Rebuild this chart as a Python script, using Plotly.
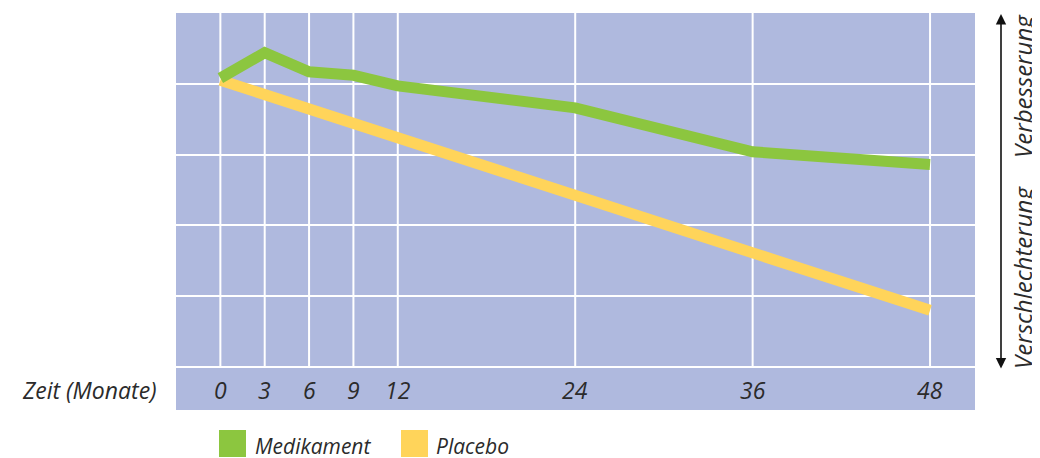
import plotly.graph_objects as go

# Data
months = [0, 3, 6, 9, 12, 24, 36, 48]
medikament = [4.08, 4.44, 4.17, 4.12, 3.97, 3.66, 3.04, 2.86]
placebo_months = [0, 48]
placebo = [4.05, 0.80]
tick_labels = ["0", "3", "6", "9", "12", "24", "36", "48"]
series_names = ["Medikament", "Placebo"]
colors = ["#8CC63F", "#FFD45A"]

BG = "#AFB9DE"
TXT = "#2b2b2b"
FONT = "Open Sans"
FS = 23

# plot area in page pixels: x 176-975, y 13-410 (page is offset by 8px body margin)
PL, PR, PT, PB = 176, 975, 13, 410
W, H = 1040, 458
OFF = 8
PW = PR - PL
PH = PB - PT


def px(x):
    return (x - PL) / PW


def py(y):
    return (PB - y) / PH


fig = go.Figure()
fig.add_trace(go.Scatter(x=placebo_months, y=placebo, mode="lines",
                         line=dict(color=colors[1], width=11), name=series_names[1],
                         showlegend=False))
fig.add_trace(go.Scatter(x=months, y=medikament, mode="lines",
                         line=dict(color=colors[0], width=11), name=series_names[0],
                         showlegend=False))

# vertical gridlines (stop at the divider)
for m in months:
    fig.add_shape(type="line", xref="x", yref="y", x0=m, x1=m, y0=0, y1=5,
                  line=dict(color="white", width=2), layer="below")

# tick labels inside the lower band
for m, lab in zip(months, tick_labels):
    fig.add_annotation(x=m, y=-0.325, xref="x", yref="y", text=lab, showarrow=False,
                       font=dict(family=FONT, size=FS, color=TXT, style="italic"),
                       xanchor="center", yanchor="middle")

fig.add_annotation(x=px(159), y=-0.325, xref="paper", yref="y", text="Zeit (Monate)",
                   showarrow=False, xanchor="right", yanchor="middle",
                   font=dict(family=FONT, size=FS, color=TXT, style="italic"))

# legend (manual)
leg = [(219, 246, 253), (401, 428, 434)]
for (x0, x1, xt), name, col in zip(leg, series_names, colors):
    fig.add_shape(type="rect", xref="paper", yref="paper", x0=px(x0), x1=px(x1),
                  y0=py(457), y1=py(430), fillcolor=col, line=dict(width=0))
    fig.add_annotation(x=px(xt), y=py(446), xref="paper", yref="paper", text=name, showarrow=False,
                       xanchor="left", yanchor="middle",
                       font=dict(family=FONT, size=21, color=TXT, style="italic"))

# double-headed arrow on the right
fig.add_annotation(x=px(1001), y=py(14), xref="paper", yref="paper", ax=0, ay=356,
                   axref="pixel", ayref="pixel", text="", showarrow=True,
                   arrowhead=2, startarrowhead=2, arrowside="end+start",
                   arrowwidth=1.6, arrowsize=1.3, startarrowsize=1.3, arrowcolor="#111111")
fig.add_annotation(x=px(1022), y=py(86), xref="paper", yref="paper", text="Verbesserung",
                   showarrow=False, textangle=-90, xanchor="center", yanchor="middle",
                   font=dict(family=FONT, size=24, color=TXT, style="italic"))
fig.add_annotation(x=px(1022), y=py(278), xref="paper", yref="paper", text="Verschlechterung",
                   showarrow=False, textangle=-90, xanchor="center", yanchor="middle",
                   font=dict(family=FONT, size=24, color=TXT, style="italic"))

fig.update_xaxes(range=[-3, 51.04], showgrid=False, zeroline=False, showticklabels=False,
                 ticks="", showline=False)
fig.update_yaxes(range=[-0.608, 5], tickvals=[0, 1, 2, 3, 4], showticklabels=False,
                 gridcolor="white", gridwidth=2, zeroline=False, ticks="", showline=False)

fig.update_layout(width=W, height=H,
                  margin=dict(l=PL - OFF, r=W - (PR - OFF), t=PT - OFF, b=H - (PB - OFF)),
                  plot_bgcolor=BG, paper_bgcolor="white", showlegend=False)

fig.write_html("out.html")
